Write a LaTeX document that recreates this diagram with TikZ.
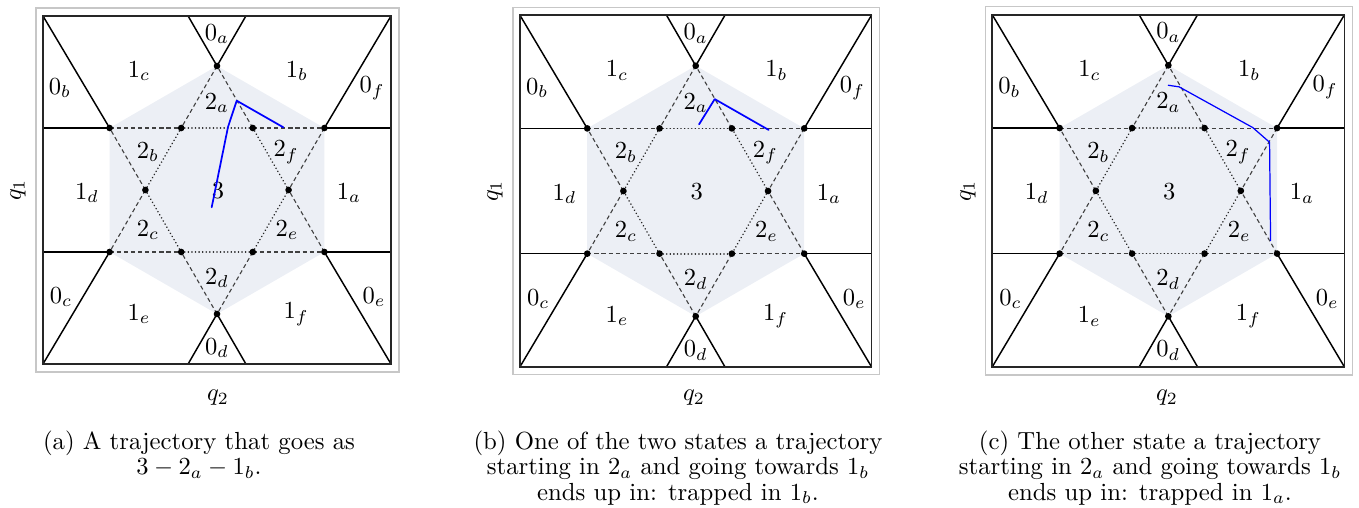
\documentclass[tikz,border=0pt]{standalone}
\usetikzlibrary{calc}
\definecolor{hexfill}{RGB}{236,239,245}
\definecolor{trajblue}{RGB}{0,0,255}
\tikzset{
  frameout/.style={draw=black!22, line width=0.5pt},
  frameline/.style={draw=black!85, line width=0.65pt},
  solidline/.style={draw=black, line width=0.6pt},
  dashline/.style={draw=black!75, line width=0.45pt, dash pattern=on 1.7pt off 1.2pt},
  dotline/.style={draw=black!85, line width=0.7pt, dash pattern=on 0.01pt off 1.45pt, line cap=round},
  lab/.style={font=\fontsize{9.8}{11}\selectfont, inner sep=0pt},
  axlab/.style={font=\fontsize{10}{11}\selectfont, inner sep=0pt},
  captext/.style={font=\fontsize{10.1}{10.3}\selectfont, inner sep=0pt, anchor=north, align=center},
  traj/.style={draw=trajblue, line width=0.7pt, line cap=round, line join=round},
  vdot/.style={fill=black}
}
\newcommand\hexpanel[1]{%
  \coordinate (#1C) at (217,190);
  \coordinate (#1H90) at (217,66);
  \coordinate (#1H150) at (109.6,128);
  \coordinate (#1H210) at (109.6,252);
  \coordinate (#1H270) at (217,314);
  \coordinate (#1H330) at (324.4,252);
  \coordinate (#1H30) at (324.4,128);
  \coordinate (#1I0) at (288.6,190);
  \coordinate (#1I60) at (252.8,128);
  \coordinate (#1I120) at (181.2,128);
  \coordinate (#1I180) at (145.4,190);
  \coordinate (#1I240) at (181.2,252);
  \coordinate (#1I300) at (252.8,252);
  \coordinate (#1TL) at (43,16);
  \coordinate (#1TR) at (391,16);
  \coordinate (#1BL) at (43,364);
  \coordinate (#1BR) at (391,364);
  \coordinate (#1L1) at (43,128);
  \coordinate (#1L2) at (43,252);
  \coordinate (#1R1) at (391,128);
  \coordinate (#1R2) at (391,252);
  \coordinate (#1TA) at (188.1,16);
  \coordinate (#1TB) at (245.9,16);
  \coordinate (#1BA) at (188.1,364);
  \coordinate (#1BB) at (245.9,364);
  \coordinate (#1O1) at (36,8);
  \coordinate (#1O2) at (399,372);
  \draw[frameout] (#1O1) rectangle (#1O2);
  \fill[hexfill] (#1H90)--(#1H150)--(#1H210)--(#1H270)--(#1H330)--(#1H30)--cycle;
  \foreach \p/\q in {H90/I120, I180/H210, H210/I240, I300/H330, H330/I0, I60/H90,
                     H150/I120, I60/H30, H30/I0, I300/H270, H270/I240, I180/H150}
    {\draw[dashline] (#1\p) -- (#1\q);}
  \foreach \p/\q in {I120/I180, I240/I300, I0/I60, I120/I60, I0/I300, I240/I180}
    {\draw[dotline] (#1\p) -- (#1\q);}
  \foreach \p/\q in {H150/TL, H150/L1, H30/TR, H30/R1, H210/BL, H210/L2,
                     H330/BR, H330/R2, H90/TA, H90/TB, H270/BA, H270/BB}
    {\draw[solidline] (#1\p) -- (#1\q);}
  \draw[frameline] (#1TL) rectangle (#1BR);
  \node[lab] (#1n0a) at (217,34) {$0_a$};
  \node[lab] (#1n1c) at (139,71) {$1_c$};
  \node[lab] (#1n1b) at (297,71) {$1_b$};
  \node[lab] (#1n0b) at (60,88) {$0_b$};
  \node[lab] (#1n0f) at (372,88) {$0_f$};
  \node[lab] (#1n2a) at (217,103) {$2_a$};
  \node[lab] (#1n2b) at (148,152) {$2_b$};
  \node[lab] (#1n2f) at (286,152) {$2_f$};
  \node[lab] (#1n1d) at (87,193) {$1_d$};
  \node[lab] (#1n3) at (218,191) {$3$};
  \node[lab] (#1n1a) at (349,193) {$1_a$};
  \node[lab] (#1n2c) at (148,230) {$2_c$};
  \node[lab] (#1n2e) at (287,230) {$2_e$};
  \node[lab] (#1n2d) at (217,278) {$2_d$};
  \node[lab] (#1n0c) at (61,297) {$0_c$};
  \node[lab] (#1n1e) at (139,314) {$1_e$};
  \node[lab] (#1n1f) at (296,314) {$1_f$};
  \node[lab] (#1n0e) at (374,297) {$0_e$};
  \node[lab] (#1n0d) at (217,348) {$0_d$};
  \foreach \p in {H90,H150,H210,H270,H330,H30,I0,I60,I120,I180,I240,I300}
    {\fill[vdot] (#1\p) circle[radius=1.35pt];}
}
\begin{document}
\begin{tikzpicture}[x=0.408pt, y=-0.408pt]
\useasboundingbox (0,0) rectangle (1359,508);
% panel (a)
\begin{scope}
  \hexpanel{a}
  \coordinate (ta1) at (211.7,207.3);
  \coordinate (ta2) at (228,127);
  \coordinate (ta3) at (236.7,100.7);
  \coordinate (ta4) at (283.3,127.3);
  \draw[traj] (ta1) -- (ta2) -- (ta3) -- (ta4);
\end{scope}
% panel (b)
\begin{scope}[shift={(478.7,1)}, shift={(217,190)}, scale=1.01, shift={(-217,-190)}]
  \hexpanel{b}
  \coordinate (tb1) at (220.3,124);
  \coordinate (tb2) at (235.8,99);
  \coordinate (tb3) at (289.2,129.5);
  \draw[traj] (tb1) -- (tb2) -- (tb3);
\end{scope}
% panel (c)
\begin{scope}[shift={(951.3,0.8)}, shift={(217,190)}, scale=1.012, shift={(-217,-190)}]
  \hexpanel{c}
  \coordinate (tc1) at (217,85.7);
  \coordinate (tc2) at (227.7,87.3);
  \coordinate (tc3) at (300.4,127.5);
  \coordinate (tc4) at (317,142);
  \coordinate (tc5) at (318,239.2);
  \draw[traj, line width=0.5pt] (tc1) -- (tc2) -- (tc3) -- (tc4) -- (tc5);
\end{scope}
% axis labels
\node[axlab, rotate=90] (qa1) at (18,190) {$q_1$};
\node[axlab] (qa2) at (218,398) {$q_2$};
\node[axlab, rotate=90] (qb1) at (495,191) {$q_1$};
\node[axlab] (qb2) at (694,398) {$q_2$};
\node[axlab, rotate=90] (qc1) at (968,191) {$q_1$};
\node[axlab] (qc2) at (1167,398) {$q_2$};
% captions
\node[captext] (capa) at (199,430.6) {(a) A trajectory that goes as\\ $3-2_a-1_b$.};
\node[captext] (capb) at (678,430.6) {(b) One of the two states a trajectory\\ starting in $2_a$ and going towards $1_b$\\ ends up in: trapped in $1_b$.};
\node[captext] (capc) at (1150,430.6) {(c) The other state a trajectory\\ starting in $2_a$ and going towards $1_b$\\ ends up in: trapped in $1_a$.};
\end{tikzpicture}
\end{document}
